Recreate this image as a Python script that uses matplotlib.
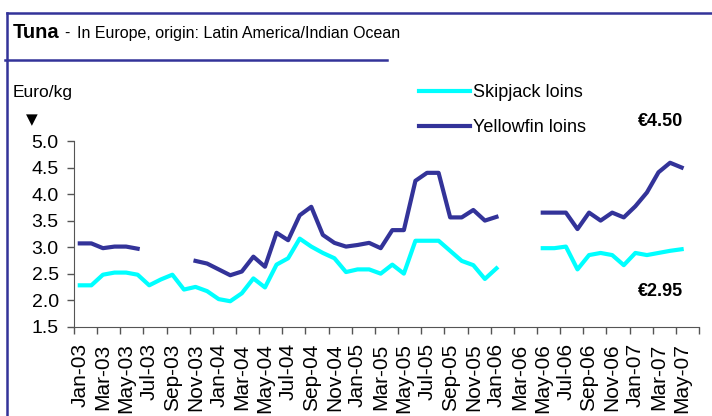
import numpy as np
import matplotlib
matplotlib.use("Agg")
import matplotlib.pyplot as plt
from matplotlib.lines import Line2D

# monthly prices, Jan-03 .. May-07 (nan = no quote)
months = ['Jan', 'Feb', 'Mar', 'Apr', 'May', 'Jun',
          'Jul', 'Aug', 'Sep', 'Oct', 'Nov', 'Dec']
years = ['03', '04', '05', '06', '07']
nan = np.nan
skipjack = [2.28, 2.28, 2.48, 2.52, 2.52, 2.48, 2.28, 2.39, 2.48, 2.20, 2.25, 2.17,
            2.02, 1.98, 2.13, 2.41, 2.24, 2.67, 2.79, 3.16, 3.01, 2.89, 2.79, 2.53,
            2.58, 2.58, 2.50, 2.67, 2.50, 3.12, 3.12, 3.12, 2.93, 2.74, 2.66, 2.40,
            2.60, nan, nan, nan, 2.98, 2.98, 3.01, 2.58, 2.85, 2.89, 2.85, 2.66,
            2.89, 2.85, 2.89, 2.93, 2.96]
yellowfin = [3.07, 3.07, 2.98, 3.01, 3.01, 2.97, nan, nan, nan, nan, 2.74, 2.69,
             2.58, 2.47, 2.54, 2.82, 2.63, 3.27, 3.13, 3.60, 3.76, 3.23, 3.08, 3.01,
             3.04, 3.08, 2.98, 3.32, 3.32, 4.25, 4.40, 4.40, 3.56, 3.56, 3.70, 3.50,
             3.57, nan, nan, nan, 3.65, 3.65, 3.65, 3.34, 3.65, 3.50, 3.65, 3.56,
             3.77, 4.03, 4.41, 4.59, 4.50]
n_cat = 54  # axis runs to Jun-07
labels = [m + '-' + y for y in years for m in months][:n_cat]

plt.rcParams['font.family'] = ['Liberation Sans', 'DejaVu Sans']

navy = '#333399'
W, H = 712, 416
fig = plt.figure(figsize=(W / 100, H / 100), dpi=100)
ax = fig.add_axes([74 / W, 1 - 326.7 / H, (699 - 74) / W, (326.7 - 141) / H])

x = np.arange(len(skipjack)) + 0.5
ax.plot(x, skipjack, color='#00ffff', lw=3, solid_joinstyle='round', label='Skipjack loins')
ax.plot(x, yellowfin, color=navy, lw=3, solid_joinstyle='round', label='Yellowfin loins')

ax.set_xlim(0, n_cat)
ax.set_ylim(1.5, 5.0)
ax.set_yticks(np.arange(1.5, 5.01, 0.5))
ax.set_yticklabels(['%.1f' % v for v in np.arange(1.5, 5.01, 0.5)], fontsize=14)
ax.set_xticks(np.arange(0, n_cat + 1, 2))
ax.set_xticklabels([])
ax.set_xticks(np.arange(0, n_cat, 2) + 0.5, minor=True)
ax.set_xticklabels(labels[::2], minor=True, rotation=90, fontsize=15)
ax.tick_params(axis='x', which='minor', length=0, pad=12)
ax.tick_params(axis='both', which='major', length=5, width=1, color='#555555', direction='out')
ax.tick_params(axis='y', pad=6)
for s in ['top', 'right']:
    ax.spines[s].set_visible(False)
for s in ['left', 'bottom']:
    ax.spines[s].set_color('#555555')

ax.legend(loc='upper left', bbox_to_anchor=(419 / W, 1 - 84 / H), bbox_transform=fig.transFigure,
          frameon=False, fontsize=13, handlelength=2.8, handletextpad=0.2, labelspacing=1.0,
          borderpad=0, borderaxespad=0)

# frame and title
fig.add_artist(Line2D([7 / W, 1], [1 - 13 / H] * 2, color=navy, lw=1.8))
fig.add_artist(Line2D([7 / W] * 2, [0, 1 - 13 / H], color=navy, lw=1.8))
fig.add_artist(Line2D([5 / W, 387 / W], [1 - 60 / H] * 2, color=navy, lw=1.8))
fig.text(13 / W, 1 - 38 / H, 'Tuna', fontsize=14.5, fontweight='bold', va='baseline')
fig.text(64 / W, 1 - 38 / H, '-', fontsize=11.5, va='baseline')
fig.text(77 / W, 1 - 38 / H, 'In Europe, origin: Latin America/Indian Ocean',
         fontsize=11.5, va='baseline')

fig.text(13 / W, 1 - 93 / H, 'Euro/kg', fontsize=12.5, va='center')
fig.text(32 / W, 1 - 120 / H, '\u25bc', family='DejaVu Sans', fontsize=11, ha='center', va='center')
fig.text(683 / W, 1 - 121 / H, '\u20ac4.50', fontsize=13, fontweight='bold', ha='right', va='center')
fig.text(683 / W, 1 - 291 / H, '\u20ac2.95', fontsize=13, fontweight='bold', ha='right', va='center')

plt.savefig('out.png', dpi=100)
